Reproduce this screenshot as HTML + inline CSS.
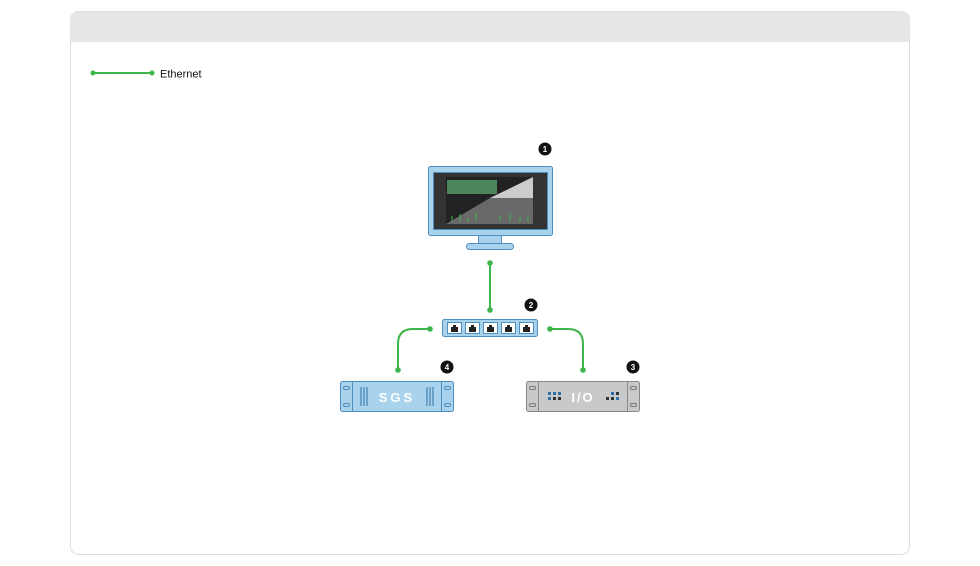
<!DOCTYPE html><html><head><style>body{margin:0;background:#fff}svg{display:block}text{font-family:"Liberation Sans",sans-serif}</style></head><body>
<svg width="980" height="566" viewBox="0 0 980 566">
<rect x="70.5" y="11.5" width="839" height="543" rx="8" fill="#fff" stroke="#dcdddf"/>
<path d="M70.5 42V19.5a8 8 0 0 1 8-8h823a8 8 0 0 1 8 8V42z" fill="#e6e7e8"/>
<line x1="93" y1="73" x2="152" y2="73" stroke="#3db54a" stroke-width="2"/><circle cx="93" cy="73" r="2.5" fill="#3db54a"/><circle cx="152" cy="73" r="2.5" fill="#3db54a"/>
<text x="160" y="77.5" font-size="11" fill="#111">Ethernet</text>
<g fill="none" stroke="#3db54a" stroke-width="2"><path d="M490 263V310"/><path d="M430 329H413Q398 329 398 344V370"/><path d="M550 329H568Q583 329 583 344V370"/></g>
<g fill="#3db54a"><circle cx="490" cy="263" r="2.8"/><circle cx="490" cy="310" r="2.8"/><circle cx="430" cy="329" r="2.8"/><circle cx="398" cy="370" r="2.8"/><circle cx="550" cy="329" r="2.8"/><circle cx="583" cy="370" r="2.8"/></g>
<!-- monitor -->
<rect x="428.5" y="166.5" width="124" height="69" rx="2" fill="#a9d3ec" stroke="#4f8fbf"/>
<rect x="433.5" y="172.5" width="114" height="57" fill="#333" stroke="#4f8fbf"/>
<rect x="446" y="177" width="87" height="47" fill="#222"/>
<rect x="447" y="180" width="50" height="14" fill="#5aa06a" opacity=".8"/>
<path d="M490 198L533 177V198z" fill="#ccc"/><path d="M490 198L446 224H533V198z" fill="#999" opacity=".6"/>
<g stroke="#3db54a" stroke-width="1"><path d="M452 222v-6M460 222v-8M468 222v-4M476 222v-9M500 222v-6M510 222v-8M520 222v-5M528 222v-7"/></g>
<rect x="478.5" y="235.5" width="23" height="8" fill="#a9d3ec" stroke="#4f8fbf"/>
<rect x="466.5" y="243.5" width="47" height="6" rx="3" fill="#a9d3ec" stroke="#4f8fbf"/>
<!-- switch -->
<rect x="442.5" y="319.5" width="95" height="17" rx="2" fill="#a9d3ec" stroke="#4f8fbf"/>
<g fill="#fff" stroke="#4f8fbf"><rect x="447.5" y="322.5" width="14" height="11"/><rect x="465.5" y="322.5" width="14" height="11"/><rect x="483.5" y="322.5" width="14" height="11"/><rect x="501.5" y="322.5" width="14" height="11"/><rect x="519.5" y="322.5" width="14" height="11"/></g>
<g fill="#222"><path d="M451 332v-5h2v-2h3v2h2v5z"/><path d="M469 332v-5h2v-2h3v2h2v5z"/><path d="M487 332v-5h2v-2h3v2h2v5z"/><path d="M505 332v-5h2v-2h3v2h2v5z"/><path d="M523 332v-5h2v-2h3v2h2v5z"/></g>
<!-- SGS -->
<rect x="340.5" y="381.5" width="113" height="30" rx="2" fill="#a9d3ec" stroke="#4f8fbf"/>
<path d="M352.5 382v29M441.5 382v29" stroke="#4f8fbf"/>
<g fill="none" stroke="#4f8fbf"><rect x="343.5" y="386.5" width="6" height="3" rx="1.5"/><rect x="343.5" y="403.5" width="6" height="3" rx="1.5"/><rect x="444.5" y="386.5" width="6" height="3" rx="1.5"/><rect x="444.5" y="403.5" width="6" height="3" rx="1.5"/></g>
<g stroke="#2f6fa6"><path d="M361 387v19M364 387v19M367 387v19M427 387v19M430 387v19M433 387v19"/></g>
<text x="397" y="402" font-size="13" font-weight="bold" fill="#fff" text-anchor="middle" letter-spacing="3">SGS</text>
<!-- IO -->
<rect x="526.5" y="381.5" width="113" height="30" rx="2" fill="#c8c9cb" stroke="#888"/>
<path d="M538.5 382v29M627.5 382v29" stroke="#888"/>
<g fill="none" stroke="#777"><rect x="529.5" y="386.5" width="6" height="3" rx="1.5"/><rect x="529.5" y="403.5" width="6" height="3" rx="1.5"/><rect x="630.5" y="386.5" width="6" height="3" rx="1.5"/><rect x="630.5" y="403.5" width="6" height="3" rx="1.5"/></g>
<g fill="#2f6fa6"><rect x="548" y="392" width="3" height="3"/><rect x="553" y="392" width="3" height="3"/><rect x="558" y="392" width="3" height="3"/><rect x="548" y="397" width="3" height="3"/><rect x="611" y="392" width="3" height="3"/><rect x="616" y="397" width="3" height="3"/></g>
<g fill="#333"><rect x="553" y="397" width="3" height="3"/><rect x="558" y="397" width="3" height="3"/><rect x="606" y="397" width="3" height="3"/><rect x="611" y="397" width="3" height="3"/><rect x="616" y="392" width="3" height="3"/></g>
<text x="583" y="402" font-size="13" font-weight="bold" fill="#fff" text-anchor="middle" letter-spacing="2">I/O</text>
<!-- badges -->
<g font-size="8" font-weight="bold" fill="#fff" text-anchor="middle">
<circle cx="545" cy="149" r="6.5" fill="#111"/><text x="545" y="152">1</text>
<circle cx="531" cy="305" r="6.5" fill="#111"/><text x="531" y="308">2</text>
<circle cx="447" cy="367" r="6.5" fill="#111"/><text x="447" y="370">4</text>
<circle cx="633" cy="367" r="6.5" fill="#111"/><text x="633" y="370">3</text></g>
</svg></body></html>
